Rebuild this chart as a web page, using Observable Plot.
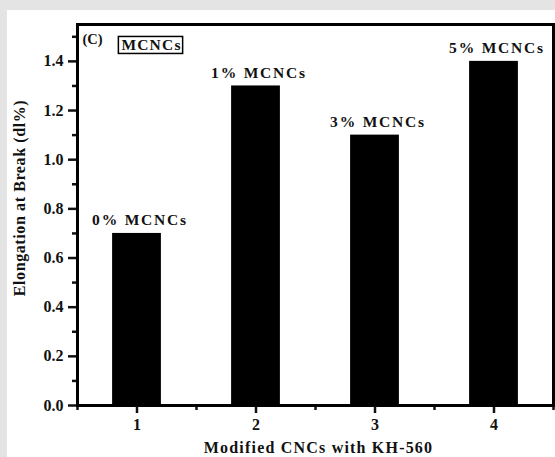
<!DOCTYPE html>
<html><head><meta charset="utf-8">
<script src="https://cdn.jsdelivr.net/npm/d3@7"></script>
<script src="https://cdn.jsdelivr.net/npm/@observablehq/plot@0.6"></script>
<style>
html,body{margin:0;padding:0;background:#e4e4e4;overflow:hidden;}
#chart{position:absolute;left:7px;top:10px;width:548px;height:447px;background:#fff;}
</style></head><body><div id="chart"></div>
<script>
const samples = [1, 2, 3, 4];
const elongation = [0.7, 1.3, 1.1, 1.4];
const barLabels = ["0% MCNCs", "1% MCNCs", "3% MCNCs", "5% MCNCs"];
const yMajor = [0, 0.2, 0.4, 0.6, 0.8, 1.0, 1.2, 1.4];
const yMinor = [0.1, 0.3, 0.5, 0.7, 0.9, 1.1, 1.3, 1.5];
const xMajor = [1, 2, 3, 4];
const xMinor = [0.5, 1.5, 2.5, 3.5, 4.5];
const panelTag = ["(C)"];
const legendText = ["MCNCs"];
const xTitle = ["Modified CNCs with KH-560"];
const yTitle = ["Elongation at Break (dl%)"];

const data = samples.map((s, i) => ({x: s, y: elongation[i], label: barLabels[i]}));
const half = 0.205;
const font = "'Liberation Serif', 'Times New Roman', serif";

const plot = Plot.plot({
  width: 548, height: 447,
  marginLeft: 70, marginRight: 2, marginTop: 14, marginBottom: 52,
  style: {fontFamily: font, fontWeight: "bold", fontSize: "15px", color: "#111", background: "#fff"},
  x: {domain: [0.5, 4.5]},
  y: {domain: [0, 1.55]},
  marks: [
    Plot.rectY(data, {x1: d => d.x - half, x2: d => d.x + half, y1: 0, y2: "y", fill: "#000"}),
    Plot.text(data, {x: "x", y: "y", text: "label", lineAnchor: "bottom", dx: 3, dy: -8, fontSize: 15.5, fontWeight: "bold", fill: "#111"}),
    Plot.axisY({ticks: yMajor, tickSize: 9, tickPadding: 5, tickFormat: d3.format(".1f"), strokeWidth: 2.5, label: null, fontSize: 16, fontWeight: "bold"}),
    Plot.axisY({ticks: yMinor, tickSize: 5, tickFormat: () => "", strokeWidth: 2.5, label: null}),
    Plot.axisX({ticks: xMajor, tickSize: 8, tickPadding: 5, tickFormat: d3.format("d"), strokeWidth: 2.5, label: null, fontSize: 16, fontWeight: "bold"}),
    Plot.axisX({ticks: xMinor, tickSize: 5, tickFormat: () => "", strokeWidth: 2.5, label: null}),
    Plot.frame({stroke: "#000", strokeWidth: 3}),
    Plot.text(panelTag, {text: d => d, frameAnchor: "top-left", textAnchor: "start", lineAnchor: "middle", dx: 5, dy: 15, fontSize: 14.5, fontWeight: "bold"}),
    Plot.text(legendText, {text: d => d, frameAnchor: "top-left", textAnchor: "middle", lineAnchor: "middle", dx: 74, dy: 21, fontSize: 15.5, fontWeight: "bold"}),
    Plot.text(xTitle, {text: d => d, frameAnchor: "bottom", lineAnchor: "middle", dx: 3, dy: 42, fontSize: 16, fontWeight: "bold"}),
    Plot.text(yTitle, {text: d => d, frameAnchor: "left", rotate: -90, textAnchor: "middle", lineAnchor: "middle", dx: -58, dy: -17, fontSize: 16, fontWeight: "bold"})
  ]
});
document.getElementById("chart").appendChild(plot);

// letter spacing for in-plot labels and a box around the legend text
const svg = d3.select(plot);
svg.selectAll("text").filter(function() { return barLabels.includes(this.textContent); }).style("letter-spacing", "1.8px");
svg.selectAll("text").filter(function() { return this.textContent === xTitle[0]; }).style("letter-spacing", "1.2px");
svg.selectAll("text").filter(function() { return this.textContent === yTitle[0]; }).style("letter-spacing", "0.6px");
svg.selectAll("text").filter(function() { return this.textContent === legendText[0]; }).each(function() {
  d3.select(this).style("letter-spacing", "1.2px");
  const b = this.getBBox();
  d3.select(this.parentNode).insert("rect", () => this)
    .attr("x", b.x - 3).attr("y", b.y).attr("width", b.width + 4).attr("height", b.height)
    .attr("transform", this.getAttribute("transform"))
    .attr("fill", "#fff").attr("stroke", "#000").attr("stroke-width", 1.5);
});
</script></body></html>
